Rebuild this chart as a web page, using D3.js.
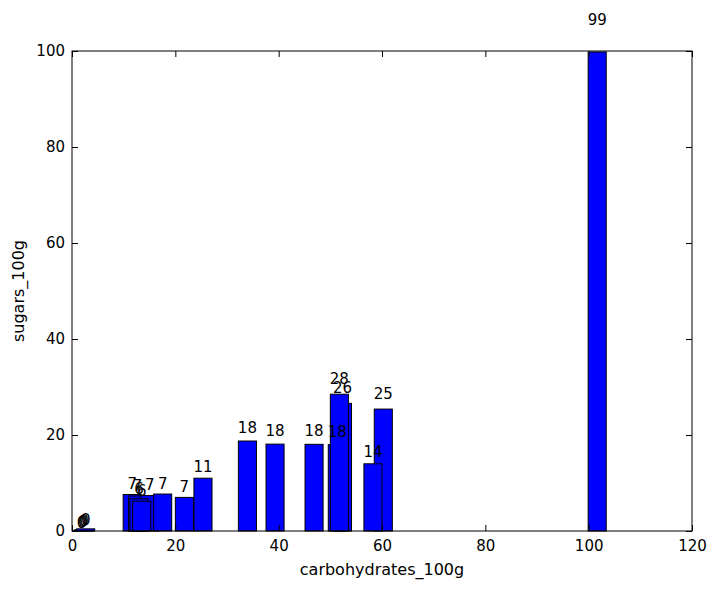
<!DOCTYPE html>
<html>
<head>
<meta charset="utf-8">
<script src="https://cdn.jsdelivr.net/npm/d3@7"></script>
<style>
  body { margin: 0; background: #fff; }
  svg text { font-family: "DejaVu Sans", sans-serif; }
</style>
</head>
<body>
<div id="chart"></div>
<script>
// bar left edges (carbohydrates_100g) and heights (sugars_100g), in drawing order
const carbs  = [0.1, 0.35, 0.6, 0.9, 9.9, 10.95, 13.3, 15.8, 11.2, 11.75, 20.0, 23.6,
                32.2, 37.55, 45.1, 49.6, 50.6, 50.0, 58.5, 56.5, 99.9];
const sugars = [0.0, 0.15, 0.3, 0.45, 7.6, 7.3, 7.4, 7.7, 6.7, 6.2, 7.0, 11.0,
                18.75, 18.1, 18.06, 18.0, 26.6, 28.5, 25.4, 14.0, 99.8];
const barWidth = 3.5;
const xTicks = [0, 20, 40, 60, 80, 100, 120];
const yTicks = [0, 20, 40, 60, 80, 100];

const bars = carbs.map((c, i) => ({ x: c, h: sugars[i] }));

const W = 718, H = 590;
const margin = { top: 51, right: 26, bottom: 59, left: 72 };
const width = W - margin.left - margin.right;
const height = H - margin.top - margin.bottom;

const svg = d3.select("#chart").append("svg")
    .attr("width", W)
    .attr("height", H);

const g = svg.append("g")
    .attr("transform", `translate(${margin.left},${margin.top})`);

const x = d3.scaleLinear().domain([0, 120]).range([0, width]);
const y = d3.scaleLinear().domain([0, 100]).range([height, 0]);

// bars
g.selectAll(".bar")
    .data(bars)
    .enter().append("rect")
    .attr("class", "bar")
    .attr("x", d => x(d.x))
    .attr("y", d => y(d.h))
    .attr("width", d => x(d.x + barWidth) - x(d.x))
    .attr("height", d => y(0) - y(d.h))
    .attr("fill", "#0000ff")
    .attr("stroke", "#000")
    .attr("stroke-width", 1);

// value labels at 1.05 * height
g.selectAll(".val")
    .data(bars)
    .enter().append("text")
    .attr("class", "val")
    .attr("x", d => x(d.x + barWidth / 2))
    .attr("y", d => y(1.05 * d.h) - 3.5)
    .attr("text-anchor", "middle")
    .style("font-size", "15px")
    .text(d => Math.floor(d.h));

// axes, ticks pointing inward
const tick = 6;
const xAxis = g.append("g")
    .attr("transform", `translate(0,${height})`)
    .call(d3.axisBottom(x).tickValues(xTicks).tickSize(-tick).tickPadding(9));
const xTop = g.append("g")
    .call(d3.axisTop(x).tickValues(xTicks).tickSize(-tick).tickFormat(""));
const yAxis = g.append("g")
    .call(d3.axisLeft(y).tickValues(yTicks).tickSize(-tick).tickPadding(7));
const yRight = g.append("g")
    .attr("transform", `translate(${width},0)`)
    .call(d3.axisRight(y).tickValues(yTicks).tickSize(-tick).tickFormat(""));

[xAxis, xTop, yAxis, yRight].forEach(a => {
    a.select(".domain").remove();
    a.selectAll("line").attr("stroke", "#000");
    a.selectAll("text")
        .attr("fill", "#000")
        .style("font-size", "15px")
        .style("font-family", "DejaVu Sans");
});

// frame
g.append("rect")
    .attr("width", width)
    .attr("height", height)
    .attr("fill", "none")
    .attr("stroke", "#000")
    .attr("stroke-width", 1);

// axis labels
svg.append("text")
    .attr("x", margin.left + width / 2)
    .attr("y", 575)
    .attr("text-anchor", "middle")
    .style("font-size", "16px")
    .text("carbohydrates_100g");

svg.append("text")
    .attr("transform", `translate(24,${margin.top + height / 2}) rotate(-90)`)
    .attr("text-anchor", "middle")
    .style("font-size", "16px")
    .text("sugars_100g");
</script>
</body>
</html>
